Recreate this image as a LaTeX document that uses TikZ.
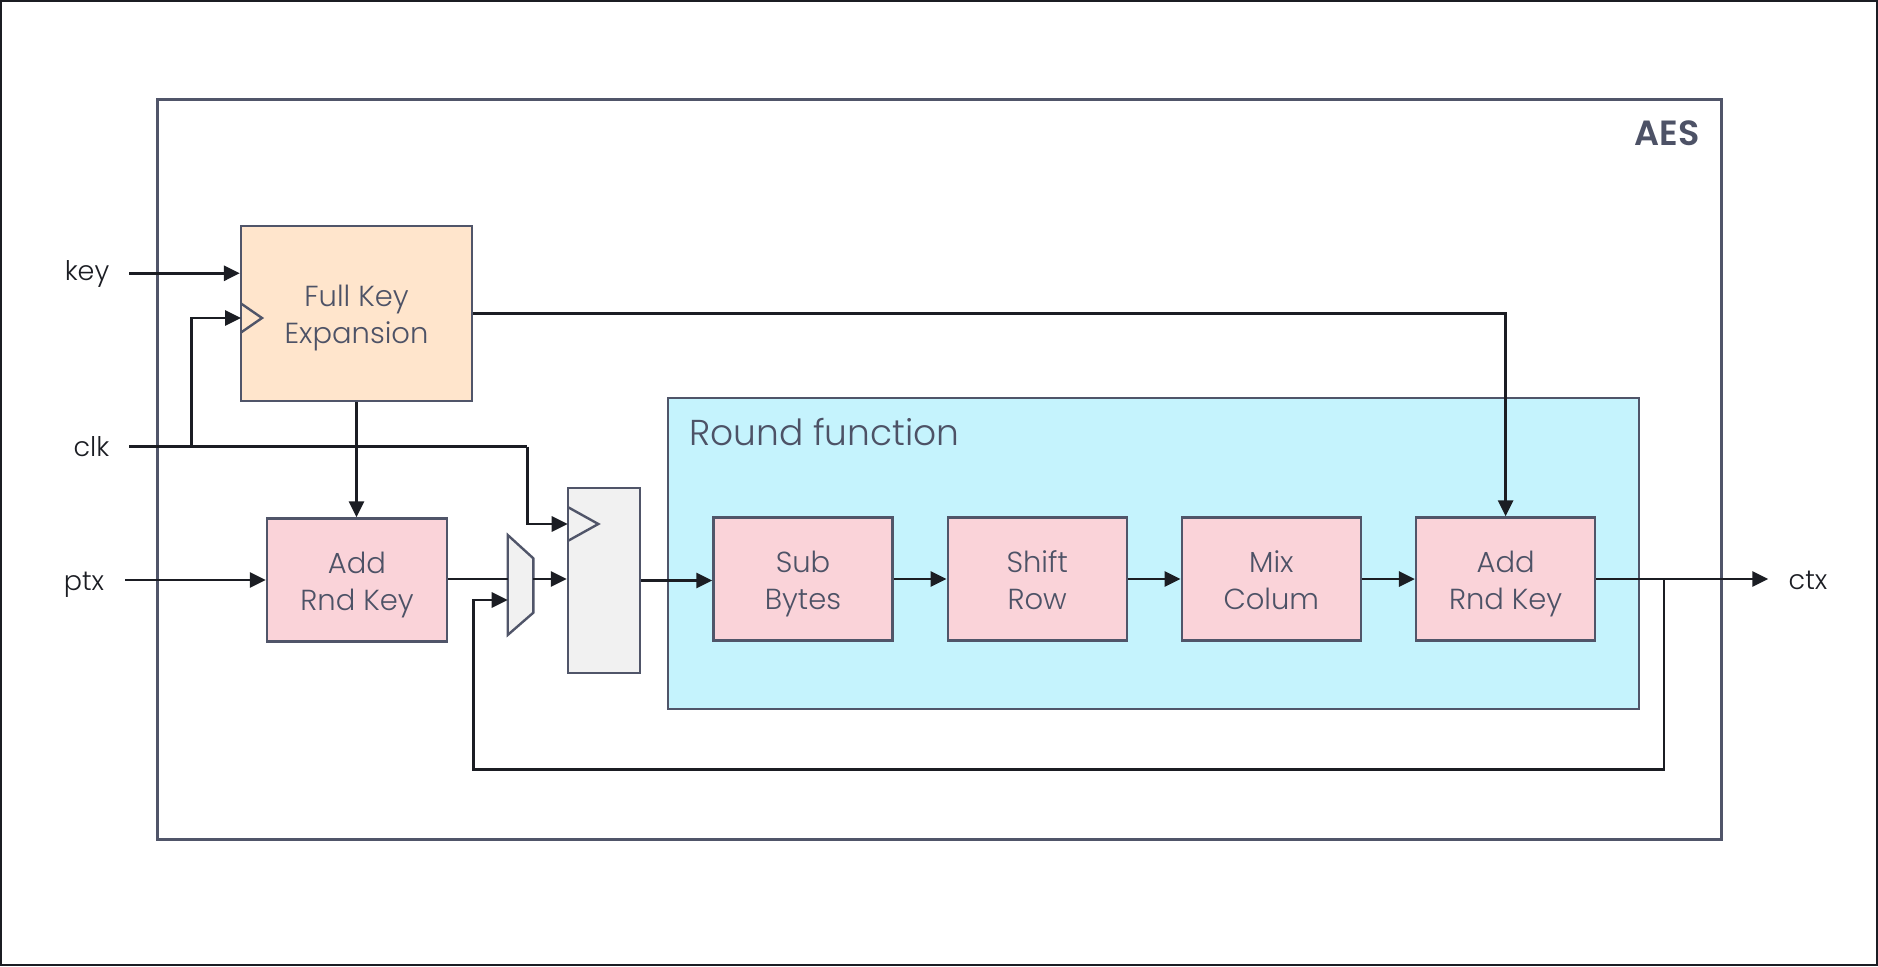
\documentclass[tikz,border=0pt]{standalone}
\usepackage{fontspec}
\setmainfont{Poppins}[UprightFont=* Light,BoldFont=* SemiBold]
\usetikzlibrary{arrows.meta,calc}
\definecolor{edge}{HTML}{505569}
\definecolor{ink}{HTML}{4D5266}
\definecolor{wire}{HTML}{1B1D23}
\definecolor{peach}{HTML}{FFE5CC}
\definecolor{pinkfill}{HTML}{FAD3D9}
\definecolor{cyanfill}{HTML}{C5F3FD}
\definecolor{regfill}{HTML}{F1F1F1}
% two centred lines with fixed baselines
\newcommand\stacklabel[2]{\rule{0pt}{23.5pt}#1\\\smash{#2}}
\begin{document}
\begin{tikzpicture}[x=1pt,y=-1pt,
  blk/.style={draw=edge,line width=2.4pt,text=ink,align=center,
    font=\fontsize{29}{37}\selectfont,inner sep=0pt},
  stage/.style={blk,fill=pinkfill,minimum width=179pt,minimum height=123pt},
  arrow/.style={draw=wire,line width=2.9pt,-{Triangle[length=16pt,width=15pt]}},
  line/.style={draw=wire,line width=2.9pt},
  port/.style={text=wire,font=\fontsize{27}{30}\selectfont,inner sep=0pt,anchor=base},
  clocktick/.style={draw=edge,line width=2.4pt}]
\useasboundingbox (0,0) rectangle (1878,966);
\draw[wire,line width=2.5pt] (1,1) rectangle (1877,965);

% enclosing AES block
\node[draw=edge,line width=2.4pt,minimum width=1564pt,minimum height=740pt] (aes) at (939.3,469.5) {};
\node[anchor=base east,text=ink,font=\bfseries\fontsize{35}{40}\selectfont,inner sep=0pt] (aeslabel) at (1700,145.7) {AES};

% round function group
\node[draw=edge,line width=2.4pt,fill=cyanfill,minimum width=971pt,minimum height=311pt] (round) at (1153.4,553.5) {};
\node[anchor=base west,text=ink,font=\fontsize{36}{40}\selectfont,inner sep=0pt] (roundlabel) at (689,445) {Round function};

% key schedule
\node[blk,fill=peach,minimum width=231pt,minimum height=175pt] (fke) at (356.5,313.5) {\stacklabel{Full Key}{Expansion}};
\draw[clocktick] (241,303.5) -- (262,318) -- (241,332.5);

% initial key addition
\node[stage,minimum width=180pt] (ark1) at (357,580) {\stacklabel{Add}{Rnd Key}};

% multiplexer
\draw[draw=edge,line width=2.4pt,fill=regfill] (507.7,535) -- (533.3,558.3) -- (533.3,612.7) -- (507.7,635) -- cycle;
\coordinate (muxa) at (507.7,579);
\coordinate (muxb) at (507.7,600);
\coordinate (muxout) at (533.3,579);

% state register
\node[draw=edge,line width=2.4pt,fill=regfill,minimum width=72pt,minimum height=185pt] (reg) at (604,580.5) {};
\draw[clocktick] (567.7,507) -- (598.3,524) -- (567.7,541);

% round stages
\node[stage] (sb) at (803,579) {\stacklabel{Sub}{Bytes}};
\node[stage] (sr) at (1037.2,579) {\stacklabel{Shift}{Row}};
\node[stage] (mc) at (1271.3,579) {\stacklabel{Mix}{Colum}};
\node[stage] (ark2) at (1505.6,579) {\stacklabel{Add}{Rnd Key}};

% ports
\node[port] (keylabel) at (87,280) {key};
\node[port] (clklabel) at (91.5,456.5) {clk};
\node[port] (ptxlabel) at (84,590.5) {ptx};
\node[port] (ctxlabel) at (1808,589) {ctx};
\coordinate (keyin) at (129,273.3);
\coordinate (clkin) at (129,446.7);
\coordinate (clkfork) at (191.7,446.7);
\coordinate (clkturn) at (527.3,446.7);
\coordinate (fkeclk) at (241,318);
\coordinate (regclk) at (567.7,524);
\coordinate (ptxin) at (125,580);
\coordinate (ctxout) at (1768.3,579);
\coordinate (loopfork) at (1664,579);
\coordinate (loopcorner) at (473.3,769.3);

% connectors
\draw[arrow] (keyin) -- (keyin -| fke.west);
\draw[line] (clkin) -- (clkturn);
\draw[arrow] (clkturn) |- (regclk);
\draw[arrow] (clkfork) |- (fkeclk);
\draw[arrow] (fke.south) -- (fke.south |- ark1.north);
\draw[arrow] (ptxin) -- (ark1.west);
\draw[line] (ark1.east |- muxa) -- (muxa);
\draw[arrow] (muxout) -- (muxout -| reg.west);
\draw[arrow] (reg.east) -- (reg.east -| sb.west);
\draw[arrow] (sb) -- (sr);
\draw[arrow] (sr) -- (mc);
\draw[arrow] (mc) -- (ark2);
\draw[arrow] (fke.east) -| (ark2.north);
\draw[arrow] (ark2.east) -- (ctxout);
\draw[arrow] (loopfork) |- (loopcorner) |- (muxb);
\end{tikzpicture}
\end{document}
